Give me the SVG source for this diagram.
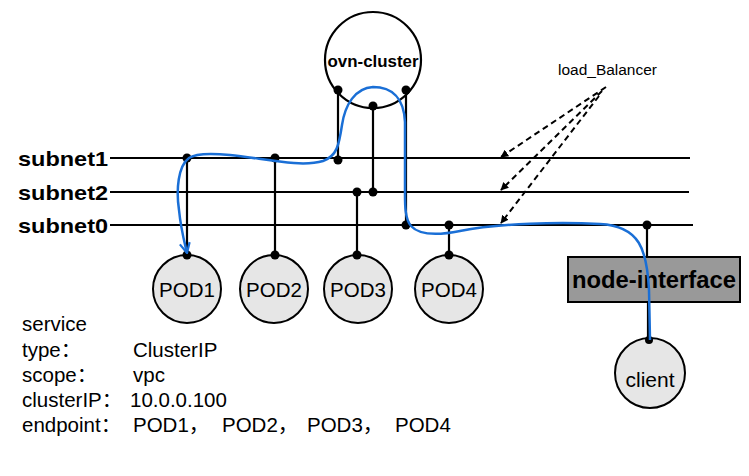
<svg xmlns="http://www.w3.org/2000/svg" width="749" height="476" viewBox="0 0 749 476">
<style>
.ln{stroke:#000;stroke-width:2.2;fill:none}
.dot{fill:#000}
.pod{fill:#e6e6e6;stroke:#000;stroke-width:2}
.t{font-family:"Liberation Sans",Arial,"Noto Sans CJK SC",sans-serif;fill:#000}
.b{font-weight:bold}
.s{font-size:20.5px}
.dash{stroke:#000;stroke-width:2;stroke-dasharray:6,4;fill:none}
.flow{stroke:#1a6fd6;stroke-width:2.5;fill:none}
</style>
<defs>
<marker id="blueArrow" viewBox="0 0 12 12" refX="11" refY="6" markerWidth="12" markerHeight="12" markerUnits="userSpaceOnUse" orient="auto">
<path d="M1,1 L11,6 L1,11" fill="none" stroke="#1a6fd6" stroke-width="2.2"/>
</marker>
<marker id="lbArrow" viewBox="0 0 10 10" refX="9" refY="5" markerWidth="8" markerHeight="8" markerUnits="userSpaceOnUse" orient="auto">
<path d="M0,0 L10,5 L0,10 Z" fill="#000"/>
</marker>
</defs>
<rect width="749" height="476" fill="#fff"/>

<g id="subnet1">
<line class="ln" x1="110" y1="158" x2="690" y2="158"/>
<text class="t b" x="18" y="166" font-size="21" textLength="90" lengthAdjust="spacingAndGlyphs">subnet1</text>
</g>
<g id="subnet2">
<line class="ln" x1="110" y1="192" x2="689" y2="192"/>
<text class="t b" x="18" y="200" font-size="21" textLength="90" lengthAdjust="spacingAndGlyphs">subnet2</text>
</g>
<g id="subnet0">
<line class="ln" x1="110" y1="225" x2="693" y2="225"/>
<text class="t b" x="18" y="233" font-size="21" textLength="90" lengthAdjust="spacingAndGlyphs">subnet0</text>
</g>

<g id="connectors">
<line class="ln" x1="187" y1="158" x2="187" y2="255"/>
<line class="ln" x1="275" y1="158" x2="275" y2="255"/>
<line class="ln" x1="338" y1="90" x2="338" y2="160"/>
<line class="ln" x1="373" y1="105" x2="373" y2="192"/>
<line class="ln" x1="357" y1="192" x2="357" y2="255"/>
<line class="ln" x1="406" y1="90" x2="406" y2="225"/>
<line class="ln" x1="449" y1="225" x2="449" y2="255"/>
<line class="ln" x1="647" y1="225" x2="647" y2="257"/>
<line class="ln" x1="648" y1="302" x2="648" y2="340"/>
<circle class="dot" cx="187" cy="158" r="4.5"/>
<circle class="dot" cx="275" cy="158" r="4.5"/>
<circle class="dot" cx="338" cy="160" r="4.5"/>
<circle class="dot" cx="357" cy="192" r="4.5"/>
<circle class="dot" cx="373" cy="192" r="4.5"/>
<circle class="dot" cx="406" cy="225" r="4.5"/>
<circle class="dot" cx="449" cy="225" r="4.5"/>
<circle class="dot" cx="647" cy="225" r="4.5"/>
<line class="dash" x1="606" y1="87" x2="501" y2="157" marker-end="url(#lbArrow)"/>
<line class="dash" x1="602" y1="91" x2="501" y2="190" marker-end="url(#lbArrow)"/>
<line class="dash" x1="599" y1="96" x2="501" y2="223" marker-end="url(#lbArrow)"/>
</g>

<g id="ovn-cluster">
<circle cx="373" cy="60" r="48" fill="#fff" stroke="#000" stroke-width="2.2"/>
<text class="t b" x="373" y="67" font-size="16" text-anchor="middle" textLength="91" lengthAdjust="spacingAndGlyphs">ovn-cluster</text>
<circle class="dot" cx="338" cy="90" r="4.5"/>
<circle class="dot" cx="373" cy="106" r="4.5"/>
<circle class="dot" cx="406" cy="90" r="4.5"/>
</g>

<g id="pod1">
<circle class="pod" cx="187" cy="289" r="34"/>
<text class="t" x="187" y="297" font-size="20.5" text-anchor="middle">POD1</text>
<circle class="dot" cx="187" cy="255" r="4.5"/>
</g>
<g id="pod2">
<circle class="pod" cx="274" cy="289" r="34"/>
<text class="t" x="274" y="297" font-size="20.5" text-anchor="middle">POD2</text>
<circle class="dot" cx="275" cy="255" r="4.5"/>
</g>
<g id="pod3">
<circle class="pod" cx="358" cy="289" r="34"/>
<text class="t" x="358" y="297" font-size="20.5" text-anchor="middle">POD3</text>
<circle class="dot" cx="357" cy="255" r="4.5"/>
</g>
<g id="pod4">
<circle class="pod" cx="449" cy="289" r="34"/>
<text class="t" x="449" y="297" font-size="20.5" text-anchor="middle">POD4</text>
<circle class="dot" cx="449" cy="255" r="4.5"/>
</g>

<g id="node-interface">
<rect x="568" y="257" width="172" height="45" fill="#999" stroke="#000" stroke-width="2"/>
<text class="t b" x="654" y="288" font-size="23" text-anchor="middle" textLength="164" lengthAdjust="spacingAndGlyphs">node-interface</text>
</g>

<g id="client">
<circle class="pod" cx="650" cy="373" r="35"/>
<text class="t" x="650" y="387" font-size="21" text-anchor="middle">client</text>
<circle class="dot" cx="649" cy="340" r="4"/>
</g>

<g id="load_Balancer">
<text class="t" x="558" y="75" font-size="14" textLength="99" lengthAdjust="spacingAndGlyphs">load_Balancer</text>
</g>

<g id="flow">
<path class="flow" marker-end="url(#blueArrow)" d="M650,340 L649,290 C647,250 640,226 600,224 C560,222 500,223 460,231 C440,235 420,236 411,226 C405,219 405,205 405,195 L405,122 C404,98 392,87 373,87 C355,88 345,105 342,125 C339,145 337,156 323,161 C300,168 262,158 230,155 C210,153 196,153 189,158 C178,166 176,190 179,210 C181,230 184,240 187,253"/>
</g>

<g id="service-info">
<text class="t s" x="22" y="331">service</text>
<text class="t s" x="22" y="357">type：</text>
<text class="t s" x="133" y="357">ClusterIP</text>
<text class="t s" x="22" y="382">scope：</text>
<text class="t s" x="133" y="382">vpc</text>
<text class="t s" x="22" y="407">clusterIP：</text>
<text class="t s" x="130" y="407">10.0.0.100</text>
<text class="t s" x="22" y="432">endpoint：</text>
<text class="t s" x="133" y="432">POD1，</text>
<text class="t s" x="222" y="432">POD2，</text>
<text class="t s" x="307" y="432">POD3，</text>
<text class="t s" x="395" y="432">POD4</text>
</g>
</svg>
